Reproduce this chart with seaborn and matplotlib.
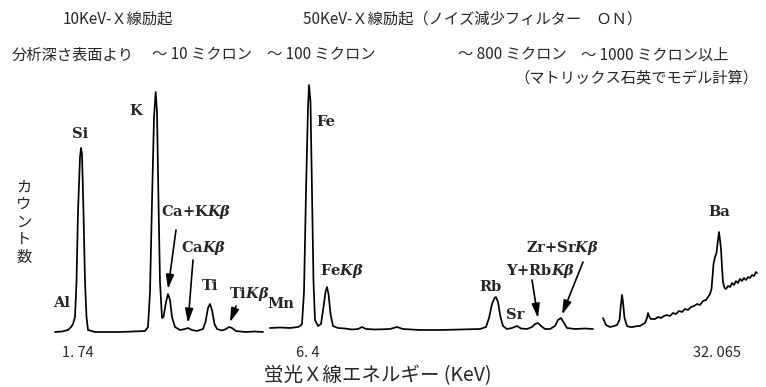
import numpy as np
import pandas as pd
import matplotlib
matplotlib.use('Agg')
import matplotlib.pyplot as plt
import seaborn as sns

# スペクトルの読み取り値: x=チャンネル位置, y=ベースラインからのカウント(任意単位)
seg1_x = [55, 62, 68, 71, 73, 75, 76.5, 78, 80, 81, 82, 83.5, 85, 86.5, 88, 95, 120, 145,
          148, 150, 152, 154, 155.7, 157, 158.5, 160, 162, 163.5, 166, 168, 170, 172, 175,
          180, 185, 188, 192, 197, 203, 205.5, 208, 210, 212, 214.5, 217, 222, 226, 229,
          232, 236, 245, 255, 263]
seg1_y = [0, 0.5, 2, 5, 8, 15, 50, 120, 175, 184, 178, 120, 50, 15, 2, 0, 0, 1,
          5, 40, 130, 215, 240, 220, 130, 50, 14, 15, 30, 38, 32, 15, 5,
          2, 3, 4, 2, 1, 3, 10, 24, 28, 22, 8, 3, 1.5, 3, 5,
          4, 1, 0, 0.5, 0]

seg2_x = [270, 280, 290, 298, 300, 302, 304, 306, 308, 309, 310.5, 312, 313.5, 315, 318,
          321, 323.5, 325.5, 327, 328.5, 330.5, 333, 338, 345, 352, 358, 362, 366, 375,
          390, 397, 403, 420, 440, 460, 480, 486, 489, 492, 494.5, 496, 498, 500.5, 503,
          507, 512, 517, 521, 527, 532, 535, 538, 541, 545, 550, 555, 558, 561, 564, 567,
          575, 585, 593]
seg2_y = [4, 4.5, 4, 5, 6, 8, 40, 140, 225, 247, 230, 140, 50, 12, 6,
          8, 25, 40, 45, 38, 18, 6, 4, 3.5, 2.5, 3, 5, 3, 2.5,
          3, 5, 3, 2, 2, 2.5, 3, 5, 14, 28, 34, 35, 30, 15, 6,
          3, 4, 6, 3.5, 3, 5, 8, 9, 6, 3, 3, 6, 12, 14, 9, 4,
          3, 3.5, 3]

seg3_x = [603, 606, 610, 614, 617, 619.5, 621, 622, 623, 624.5, 627, 630, 633, 637, 640,
          643, 645, 647, 648, 649.5, 651, 653, 655, 658, 661, 664, 667, 670, 673, 676,
          679, 682, 685, 688, 691, 694, 697, 700, 703, 706, 708, 710, 711.5, 712.5, 713.5,
          715, 716.5, 717.5, 719, 720, 721, 722, 723, 724.5, 726, 728, 730, 732, 734, 736,
          738, 740, 742, 744, 746, 748, 750, 752, 754, 756, 757]
seg3_y = [14, 7, 5, 6, 7, 12, 28, 37, 30, 14, 6, 5, 5, 6, 6,
          8, 9, 14, 19, 15, 13, 13, 13, 15, 14, 16, 17, 16, 19, 18,
          21, 20, 23, 22, 25, 26, 28, 27, 31, 32, 35, 38, 43, 55, 68,
          75, 79, 88, 100, 92, 83, 65, 50, 44, 43, 46, 45, 49, 47, 51,
          49, 53, 51, 54, 52, 55, 54, 57, 56, 60, 59]

# 目盛り(ピーク位置)とラベル
tick_pos = [78, 308, 717]
tick_labels = ['1. 74', '6. 4', '32. 065']

# ピーク名: (表示文字, ラベル中心x, ラベル中心y[px])
peak_labels = [
    ('Al', 62, 303), ('Si', 80, 134), ('K', 136, 111), ('Ti', 210, 286),
    ('Mn', 281, 304), ('Fe', 326, 122), (r'Fe$K\beta$', 342, 271),
    ('Rb', 490, 287), ('Sr', 515, 315), ('Ba', 719, 212),
]
# 矢印付きラベル: (表示文字, ピークx, ラベル中心, 矢印の根元)
arrow_labels = [
    (r'Ca+K$K\beta$', 168, (196, 212), (176, 230)),
    (r'Ca$K\beta$', 188, (204, 248), (193, 260)),
    (r'Ti$K\beta$', 230, (249, 294), (236, 306)),
    (r'Y+Rb$K\beta$', 538, (541, 271), (532, 280)),
    (r'Zr+Sr$K\beta$', 562, (563, 248), (583, 262)),
]

BASE = 332  # ベースラインの画素位置


def h(py):
    return BASE - py


sns.set_theme(style='white')
plt.rcParams['font.family'] = ['Noto Sans CJK JP', 'DejaVu Sans']
plt.rcParams['mathtext.fontset'] = 'custom'
plt.rcParams['mathtext.rm'] = 'DejaVu Serif:bold'
plt.rcParams['mathtext.it'] = 'DejaVu Serif:italic:bold'

df = pd.concat([
    pd.DataFrame({'channel': seg1_x, 'counts': seg1_y, 'segment': 1}),
    pd.DataFrame({'channel': seg2_x, 'counts': seg2_y, 'segment': 2}),
    pd.DataFrame({'channel': seg3_x, 'counts': seg3_y, 'segment': 3}),
])

fig = plt.figure(figsize=(7.66, 3.87), dpi=100)
ax = fig.add_axes([0, 47 / 387, 1, 340 / 387])
sns.lineplot(data=df, x='channel', y='counts', units='segment', estimator=None,
             sort=False, color='black', lw=1.25, ax=ax)
ax.set_xlim(0, 766)
ax.set_ylim(-8, 332)
sns.despine(ax=ax, left=True, bottom=True)
ax.set_yticks([])
ax.set_ylabel('')
ax.set_xticks(tick_pos)
ax.set_xticklabels(tick_labels, fontsize=10.5)
ax.tick_params(axis='x', length=0, pad=4)
ax.set_xlabel('蛍光Ｘ線エネルギー (KeV)', fontsize=14)
ax.xaxis.set_label_coords(378 / 766, -25 / 340)

# 上部の説明文
jp = dict(fontsize=11, va='center', ha='left')
ax.text(63, h(19), '10KeV-Ｘ線励起', **jp)
ax.text(303, h(19), '50KeV-Ｘ線励起（ノイズ減少フィルター　ＯＮ）', **jp)
ax.text(12, h(55), '分析深さ表面より', **jp)
ax.text(152, h(55), '～ 10 ミクロン', **jp)
ax.text(267, h(55), '～ 100 ミクロン', **jp)
ax.text(458, h(55), '～ 800 ミクロン', **jp)
ax.text(581, h(55), '～ 1000 ミクロン以上', **jp)
ax.text(514, h(78), '（マトリックス石英でモデル計算）', **jp)
ax.text(24, h(222), 'カ\nウ\nン\nト\n数', fontsize=11, ha='center', va='center',
        linespacing=1.05)

lab = dict(fontsize=10.5, family='DejaVu Serif', fontweight='bold', ha='center', va='center')
for txt, lx, ly in peak_labels:
    ax.text(lx, h(ly), txt, **lab)

seg_all = df[df['segment'] < 3]
for txt, pk, (lx, ly), (tx, ty) in arrow_labels:
    ax.text(lx, h(ly), txt, **lab)
    tip = np.interp(pk, seg_all['channel'], seg_all['counts']) + 5
    ax.annotate('', xy=(pk, tip), xytext=(tx, h(ty)),
                arrowprops=dict(arrowstyle='-|>,head_length=0.7,head_width=0.2',
                                color='black', lw=1.2, shrinkA=0, shrinkB=0))

fig.savefig('out.png', dpi=100)
